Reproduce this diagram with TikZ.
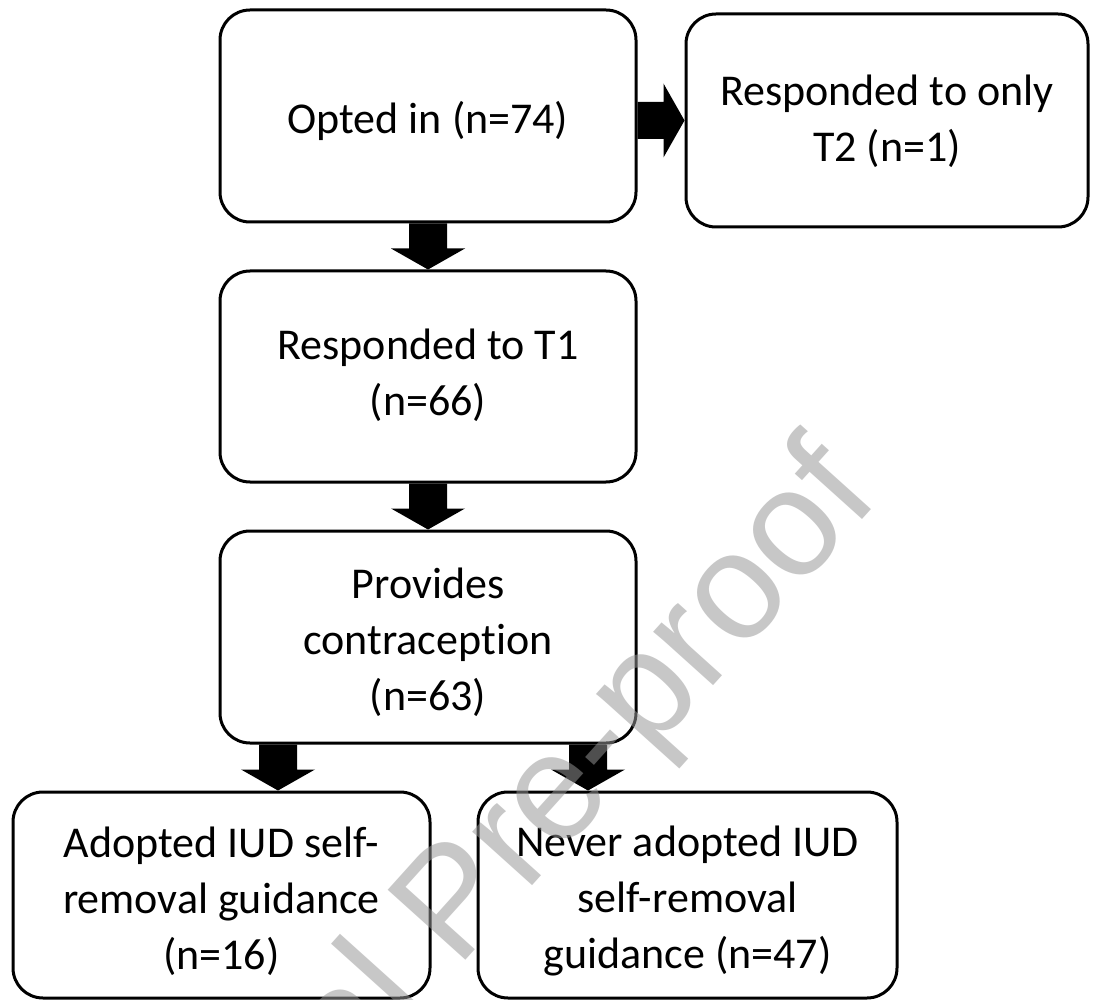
\documentclass[tikz,border=0pt]{standalone}
\usepackage{fontspec}
\setmainfont{Carlito}[Ligatures=NoCommon]
\newfontfamily\wmfont{Liberation Sans}
\usetikzlibrary{calc}
\definecolor{wmgray}{gray}{0.59}
\newcommand\blkdown[3]{%
  \fill ($(#2.south -| #1)+(-19,0)$) -- ($(#2.south -| #1)+(19,0)$) --
        ($(#2.south -| #1)+(19,25)$) -- ($(#2.south -| #1)+(37,25)$) --
        (#3.north -| #1) --
        ($(#2.south -| #1)+(-37,25)$) -- ($(#2.south -| #1)+(-19,25)$) -- cycle;}
\begin{document}
\begin{tikzpicture}[x=1pt,y=-1pt,
  box/.style={draw, line width=3pt, rounded corners=30pt, inner sep=0pt},
  txt/.style={align=center, inner sep=0pt, font=\fontsize{44}{56}\selectfont},
  wm/.style={text=wmgray, text opacity=0.53, inner sep=0pt,
    font=\wmfont\fontsize{152}{152}\selectfont}]
\useasboundingbox (0,0) rectangle (1093,1000);
\fill[white] (0,0) rectangle (1093,1000);
\node[box, minimum width=416pt, minimum height=212pt] (A) at (428,116) {};
\node[box, minimum width=402pt, minimum height=213pt] (B) at (887,120.5) {};
\node[box, minimum width=416pt, minimum height=211pt] (C) at (428,376.5) {};
\node[box, minimum width=416pt, minimum height=212pt] (D) at (428,637) {};
\node[box, minimum width=417pt, minimum height=206pt] (E1) at (221.5,895) {};
\node[box, minimum width=419pt, minimum height=206pt] (E2) at (687.5,895) {};
\node[txt] (tA) at ($(A)+(0,5)$) {Opted in (n=74)};
\node[txt] (tB) at ($(B)+(0,1)$) {Responded to only\\T2 (n=1)};
\node[txt] (tC) at ($(C)+(0,-1)$) {Responded to T1\\(n=66)};
\node[txt] (tD) at ($(D)+(0,5)$) {Provides\\contraception\\(n=63)};
\node[txt] (tE1) at ($(E1)+(0,6)$) {Adopted IUD self-\\removal guidance\\(n=16)};
\node[txt] (tE2) at ($(E2)+(0,6)$) {Never adopted IUD\\self-removal\\guidance (n=47)};
\coordinate (xm) at (428,0);
\coordinate (xl) at (278,0);
\coordinate (xr) at (588,0);
\blkdown{xm}{A}{C}
\blkdown{xm}{C}{D}
\blkdown{xl}{D}{E1}
\blkdown{xr}{D}{E2}
\fill ($(A.east |- B.west)+(0,-18.5)$) -- ($(A.east |- B.west)+(26,-18.5)$) --
      ($(A.east |- B.west)+(26,-37)$) -- (B.west) --
      ($(A.east |- B.west)+(26,37)$) -- ($(A.east |- B.west)+(26,18.5)$) --
      ($(A.east |- B.west)+(0,18.5)$) -- cycle;
\begin{scope}
\clip (0,0) rectangle (1093,1000);
\node[wm, rotate=48, anchor=base east] (wmk) at (882,498) {Journal Pre-proof};
\end{scope}
\end{tikzpicture}
\end{document}
